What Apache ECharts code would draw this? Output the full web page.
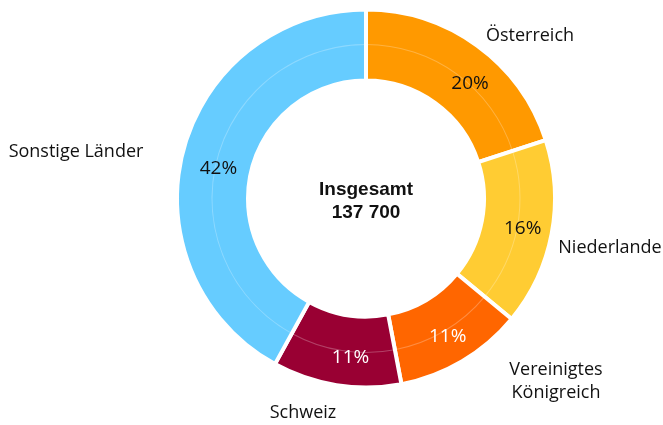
<!DOCTYPE html>
<html>
<head>
<meta charset="utf-8">
<script src="https://cdn.jsdelivr.net/npm/echarts@6/dist/echarts.min.js"></script>
<style>
  html, body { margin: 0; padding: 0; background: #fff; }
  #chart { width: 663px; height: 425px; }
</style>
</head>
<body>
<div id="chart"></div>
<script>
const countries = ['Österreich', 'Niederlande', 'Vereinigtes\nKönigreich', 'Schweiz', 'Sonstige Länder'];
const shares = [20, 16, 11, 11, 42];
const totalText = '137 700';

const colors = ['#FF9900', '#FFCC33', '#FF6600', '#990033', '#66CCFF'];
const pctColors = ['#111111', '#111111', '#ffffff', '#ffffff', '#111111'];
// nudges for the percentage labels, and centres of the country names
const pctShift = [[12, 12], [3, 1], [2, 3], [9, 5], [4, 9]];
const namePos = [[530, 36], [610, 248], [556, 381], [303, 413], [76, 152]];

const cx = 366, cy = 198.5;
const chart = echarts.init(document.getElementById('chart'));

chart.setOption({
  animation: false,
  color: colors,
  graphic: [{
    type: 'text',
    x: cx,
    y: 201,
    style: {
      text: 'Insgesamt\n' + totalText,
      align: 'center',
      verticalAlign: 'middle',
      font: 'bold 19px "Liberation Sans", Arial, sans-serif',
      lineHeight: 23,
      fill: '#111'
    }
  }],
  series: [
    {
      type: 'pie',
      center: [cx, cy],
      radius: [118, 189],
      startAngle: 90,
      clockwise: true,
      avoidLabelOverlap: false,
      itemStyle: { borderColor: '#fff', borderWidth: 4 },
      label: {
        position: 'inside',
        formatter: '{c}%',
        fontFamily: '"Open Sans", sans-serif',
        fontSize: 19
      },
      labelLine: { show: false },
      labelLayout: (p) => ({ dx: pctShift[p.dataIndex][0], dy: pctShift[p.dataIndex][1] }),
      emphasis: { disabled: true },
      data: shares.map((v, i) => ({
        value: v,
        name: countries[i],
        label: { color: pctColors[i] }
      }))
    },
    {
      // faint guide ring inside the donut, also carries the country names
      type: 'pie',
      center: [cx, cy],
      radius: [153.5, 154.5],
      startAngle: 90,
      clockwise: true,
      silent: true,
      itemStyle: { color: 'rgba(255,255,255,0.25)' },
      label: {
        position: 'outside',
        formatter: '{b}',
        fontFamily: '"Open Sans", sans-serif',
        fontSize: 18,
        lineHeight: 23,
        color: '#111',
        align: 'center',
        overflow: 'none',
        width: 200
      },
      labelLine: { show: false },
      labelLayout: (p) => ({
        x: namePos[p.dataIndex][0],
        y: namePos[p.dataIndex][1],
        align: 'center',
        verticalAlign: 'middle'
      }),
      emphasis: { disabled: true },
      data: shares.map((v, i) => ({ value: v, name: countries[i] }))
    }
  ]
});
</script>
</body>
</html>
